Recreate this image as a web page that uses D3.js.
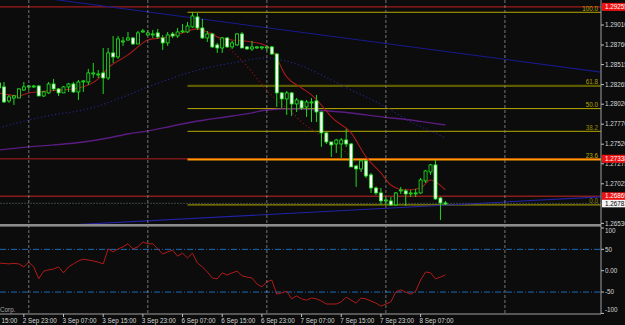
<!DOCTYPE html>
<html>
<head>
<meta charset="utf-8">
<script src="https://cdn.jsdelivr.net/npm/d3@7"></script>
<style>
  body { margin: 0; background: #0b0c0b; }
  svg { display: block; }
</style>
</head>
<body>
<div id="svgContainer"></div>
<script>

var WIDTH = 625;
var HEIGHT = 325;
var AXIS_X = 601;

// hourly bars, index -1 .. 89 (2 Sep 18:00 .. 8 Sep 12:00)
var firstBar = -1;
var opens = [1.28286,1.28236,1.28061,1.28098,1.28098,1.28198,1.28248,1.28248,1.28248,1.28123,1.28161,1.28273,1.28211,1.28161,1.28236,1.28273,1.28173,1.28311,1.28298,1.28411,1.28398,1.28411,1.28348,1.28661,1.28611,1.28811,1.28823,1.28848,1.28773,1.28936,1.28886,1.28898,1.28911,1.28848,1.28786,1.28898,1.28873,1.28936,1.28923,1.28986,1.29111,1.28973,1.28848,1.28898,1.28761,1.28723,1.28848,1.28736,1.28761,1.28898,1.28736,1.28711,1.28736,1.28736,1.28736,1.28736,1.28648,1.28161,1.28086,1.28161,1.28023,1.28061,1.27986,1.28048,1.28061,1.27923,1.27661,1.27548,1.27523,1.27523,1.27573,1.27523,1.27248,1.27211,1.27311,1.27136,1.26973,1.26911,1.26823,1.26811,1.26761,1.26948,1.26936,1.26911,1.26911,1.26911,1.27061,1.27173,1.27261,1.26848,1.26786];
var highs = [1.28323,1.28298,1.28136,1.28136,1.28223,1.28298,1.28261,1.28261,1.28261,1.28186,1.28298,1.28336,1.28223,1.28248,1.28286,1.28298,1.28323,1.28323,1.28461,1.28536,1.28448,1.28723,1.28723,1.28873,1.28873,1.28861,1.28923,1.28861,1.28936,1.28961,1.28948,1.28948,1.28961,1.28886,1.28923,1.28923,1.28973,1.29023,1.29048,1.29173,1.29161,1.29086,1.28936,1.28911,1.28786,1.28861,1.28861,1.28811,1.28911,1.28923,1.28748,1.28811,1.28748,1.28748,1.28748,1.28748,1.28661,1.28173,1.28186,1.28173,1.28098,1.28073,1.28073,1.28098,1.28136,1.27923,1.27673,1.27548,1.27586,1.27598,1.27711,1.27536,1.27261,1.27323,1.27323,1.27161,1.26986,1.26973,1.26861,1.26861,1.26923,1.26986,1.26961,1.26948,1.26961,1.27098,1.27198,1.27273,1.27323,1.26861,1.26811];
var lows = [1.28198,1.28036,1.28036,1.28011,1.28098,1.28186,1.28198,1.28223,1.28123,1.28111,1.28148,1.28186,1.28123,1.28161,1.28173,1.28161,1.28073,1.28173,1.28261,1.28348,1.28348,1.28148,1.28323,1.28536,1.28586,1.28748,1.28811,1.28761,1.28773,1.28911,1.28873,1.28848,1.28836,1.28698,1.28748,1.28848,1.28848,1.28911,1.28911,1.28973,1.28948,1.28836,1.28798,1.28723,1.28661,1.28661,1.28723,1.28711,1.28748,1.28723,1.28698,1.28686,1.28711,1.28698,1.28686,1.28636,1.27986,1.27973,1.27886,1.27873,1.27923,1.27948,1.27861,1.27798,1.27798,1.27486,1.27523,1.27361,1.27411,1.27348,1.27486,1.27236,1.26986,1.27173,1.27098,1.26911,1.26886,1.26761,1.26761,1.26748,1.26748,1.26898,1.26748,1.26861,1.26861,1.26898,1.27036,1.27136,1.26823,1.26573,1.26761];
var closes = [1.28223,1.28048,1.28111,1.28123,1.28211,1.28236,1.28248,1.28248,1.28123,1.28173,1.28273,1.28211,1.28161,1.28236,1.28273,1.28173,1.28298,1.28311,1.28411,1.28411,1.28398,1.28348,1.28661,1.28611,1.28836,1.28811,1.28848,1.28773,1.28911,1.28936,1.28911,1.28898,1.28861,1.28786,1.28886,1.28873,1.28923,1.28936,1.28998,1.29123,1.28973,1.28848,1.28898,1.28736,1.28723,1.28848,1.28736,1.28786,1.28898,1.28723,1.28711,1.28736,1.28736,1.28736,1.28736,1.28648,1.28161,1.28086,1.28161,1.28023,1.28073,1.27973,1.28048,1.28048,1.27923,1.27661,1.27548,1.27511,1.27573,1.27573,1.27523,1.27236,1.27211,1.27311,1.27123,1.26973,1.26911,1.26811,1.26823,1.26761,1.26911,1.26948,1.26898,1.26911,1.26911,1.27073,1.27186,1.27261,1.26836,1.26786,1.26781];

// oscillator in the lower window, one value per bar
var oscValues = [18,17,16,17,16,9,20,9,-19,-1,2,4,9,-5,9,16,23,27,25,23,20,16,51,44,51,56,63,51,56,67,63,63,51,39,44,48,34,41,30,41,18,9,-3,-17,-19,-5,-10,-5,-1,-12,-15,-17,-31,-38,-26,-22,-55,-52,-48,-66,-59,-66,-69,-64,-66,-71,-78,-78,-78,-73,-62,-69,-76,-64,-66,-71,-76,-83,-78,-73,-50,-45,-50,-55,-48,-22,-3,-5,-19,-15,-10];

// moving averages read at some bars: [bar, price]
var maFast = [[-1,1.28161],[3,1.28123],[5,1.28161],[9,1.28186],[15,1.28223],[19,1.28336],[21,1.28473],[25,1.28636],[27,1.28736],[29,1.28823],[33,1.28861],[36,1.28911],[39,1.28961],[41,1.28923],[43,1.28861],[46,1.28823],[50,1.28798],[53,1.28748],[54,1.28698],[57,1.28361],[60,1.28223],[62,1.28136],[65,1.27936],[66,1.27861],[70,1.27661],[73,1.27361],[76,1.27161],[78,1.27011],[81,1.26948],[84,1.26973],[86,1.27073],[89,1.26948]];
var maDotRed = [[41,1.28923],[42,1.28911],[44,1.28798],[47,1.28623],[50,1.28423],[52,1.28261],[55,1.28073],[58,1.27923],[60,1.27798],[63,1.27661],[66,1.27536],[70,1.27361],[73,1.27111],[76,1.26948]];
var maDotBlue = [[-1,1.27723],[5,1.27823],[11,1.27898],[16,1.27948],[19,1.27998],[24,1.28111],[29,1.28236],[34,1.28348],[40,1.28461],[46,1.28536],[53,1.28598],[56,1.28573],[60,1.28498],[66,1.28323],[70,1.28198],[73,1.28111],[78,1.27948],[82,1.27798],[86,1.27686],[89,1.27598]];
var maSlow = [[-1,1.27448],[5,1.27486],[10,1.27511],[16,1.27548],[21,1.27598],[25,1.27648],[29,1.27686],[34,1.27748],[38,1.27798],[42,1.27836],[46,1.27873],[50,1.27911],[53,1.27948],[58,1.27961],[63,1.27948],[68,1.27923],[73,1.27886],[78,1.27848],[82,1.27823],[86,1.27786],[89,1.27761]];

var trendUpper = [[12.3,1.29311],[120.2,1.28423]];
var trendLower = [[16.9,1.26523],[120.2,1.26861]];

var fibHigh = 1.29169;
var fibLow = 1.26761;
var fibStartBar = 37;
var fibLevels = [100.0, 61.8, 50.0, 38.2, 23.6, 0.0];
var fibLabels = ["100.0", "61.8", "50.0", "38.2", "23.6", "0.0"];
var fibColors = ["#b8aa00", "#5e5a00", "#b8aa00", "#938a00", "#ff9a00", "#938a00"];
var fibWidths = [1, 2.2, 1, 1.2, 2, 1.2];

var hLines = [1.29255, 1.27338, 1.26869];
var bidPrice = 1.26781;

var priceTicks = [1.29010, 1.28760, 1.28515, 1.28265, 1.28020, 1.27770, 1.27520, 1.27275, 1.27025, 1.26530];
var oscTicks = [100, 50, 0, -50, -100];
var oscTickLabels = ["100", "50", "0.00", "-50", "-100"];
var oscLevels = [50, -50];

var timeTickBars = [-4, 4, 12, 20, 28, 36, 44, 52, 60, 68, 76, 84];
var timeTickLabels = ["2 Sep 15:00", "2 Sep 23:00", "3 Sep 07:00", "3 Sep 15:00", "3 Sep 23:00", "6 Sep 07:00",
                      "6 Sep 15:00", "6 Sep 23:00", "7 Sep 07:00", "7 Sep 15:00", "7 Sep 23:00", "8 Sep 07:00"];
var gridBars = [5, 29, 53, 77, 101];


function drawChart()
{
    var svg = d3.select("#svgContainer").append("svg")
                .attr("width", WIDTH)
                .attr("height", HEIGHT)
                .style("font-family", "'Liberation Sans', Arial, sans-serif")
                .style("font-size", "6.3px");

    svg.append("rect").attr("width", WIDTH).attr("height", HEIGHT).attr("fill", "#0b0c0b");

    var x = d3.scaleLinear().domain([-1, 89]).range([-0.96, 445.4]);
    var y = d3.scaleLinear().domain([1.29010, 1.26530]).range([25, 223.4]);
    var yo = d3.scaleLinear().domain([100, -100]).range([228, 313.4]);

    var defs = svg.append("defs");
    defs.append("clipPath").attr("id", "clipMain")
        .append("rect").attr("x", 0).attr("y", 0).attr("width", AXIS_X).attr("height", 224);
    defs.append("clipPath").attr("id", "clipOsc")
        .append("rect").attr("x", 0).attr("y", 227).attr("width", AXIS_X).attr("height", 87);

    var main = svg.append("g").attr("clip-path", "url(#clipMain)");
    var osc = svg.append("g").attr("clip-path", "url(#clipOsc)");

    // vertical grid
    gridBars.forEach(function(b) {
        svg.append("line")
           .attr("x1", x(b)).attr("x2", x(b))
           .attr("y1", 0).attr("y2", 314)
           .attr("stroke", "#8e8e8e")
           .attr("stroke-width", 0.8)
           .attr("stroke-dasharray", "3,2");
    });

    // horizontal lines
    var hlColors = ["#a01c1c", "#7a1616", "#8a1c1c"];
    hLines.forEach(function(p, k) {
        main.append("line")
            .attr("x1", 0).attr("x2", AXIS_X)
            .attr("y1", y(p) + (k == 0 ? 1.5 : 0)).attr("y2", y(p) + (k == 0 ? 1.5 : 0))
            .attr("stroke", hlColors[k]).attr("stroke-width", 1.4);
    });
    main.append("line")
        .attr("x1", 0).attr("x2", AXIS_X)
        .attr("y1", y(bidPrice)).attr("y2", y(bidPrice))
        .attr("stroke", "#3c4444").attr("stroke-width", 1)
        .attr("stroke-dasharray", "2,1");

    // fibonacci levels
    fibLevels.forEach(function(lv, k) {
        var p = fibLow + (fibHigh - fibLow) * lv / 100;
        main.append("line")
            .attr("x1", x(fibStartBar)).attr("x2", AXIS_X)
            .attr("y1", y(p)).attr("y2", y(p))
            .attr("stroke", fibColors[k]).attr("stroke-width", fibWidths[k]);
        main.append("text")
            .attr("x", 598).attr("y", y(p) - 1.5)
            .attr("text-anchor", "end")
            .attr("fill", k == 4 ? "#b8aa00" : fibColors[k] == "#5e5a00" ? "#a89c00" : fibColors[k])
            .text(fibLabels[k]);
    });

    var lineGen = d3.line()
                    .x(function(d) { return x(d[0]); })
                    .y(function(d) { return y(d[1]); });
    var smooth = d3.line()
                   .curve(d3.curveMonotoneX)
                   .x(function(d) { return x(d[0]); })
                   .y(function(d) { return y(d[1]); });

    // trend lines, extended across the window
    [[trendUpper, "#1a1a8e"], [trendLower, "#2222a6"]].forEach(function(t) {
        var a = t[0][0], b = t[0][1];
        var slope = (b[1] - a[1]) / (b[0] - a[0]);
        var pts = [[-5, a[1] + slope * (-5 - a[0])], [125, a[1] + slope * (125 - a[0])]];
        main.append("path").attr("d", lineGen(pts))
            .attr("fill", "none").attr("stroke", t[1]).attr("stroke-width", 1.1);
    });

    main.append("path").attr("d", smooth(maSlow))
        .attr("fill", "none").attr("stroke", "#5a1c80").attr("stroke-width", 1.4);
    main.append("path").attr("d", smooth(maDotBlue))
        .attr("fill", "none").attr("stroke", "#262690").attr("stroke-width", 1.1)
        .attr("stroke-dasharray", "1.2,2.4");
    main.append("path").attr("d", smooth(maDotRed))
        .attr("fill", "none").attr("stroke", "#8c1414").attr("stroke-width", 1.1)
        .attr("stroke-dasharray", "1.2,2.4");
    main.append("path").attr("d", smooth(maFast))
        .attr("fill", "none").attr("stroke", "#a81a1a").attr("stroke-width", 1.1);

    // candles
    var bars = opens.map(function(o, k) {
        return { i: firstBar + k, o: o, h: highs[k], l: lows[k], c: closes[k] };
    });

    var candle = main.selectAll(".candle")
                     .data(bars)
                     .enter().append("g")
                     .attr("class", "candle");

    candle.append("line")
          .attr("x1", function(d) { return x(d.i); })
          .attr("x2", function(d) { return x(d.i); })
          .attr("y1", function(d) { return y(d.h); })
          .attr("y2", function(d) { return y(d.l); })
          .attr("stroke", "#20d820")
          .attr("stroke-width", 1);

    candle.append("rect")
          .attr("x", function(d) { return x(d.i) - 1.5; })
          .attr("y", function(d) { return y(Math.max(d.o, d.c)); })
          .attr("width", 3)
          .attr("height", function(d) { return Math.max(1, Math.abs(y(d.o) - y(d.c))); })
          .attr("fill", function(d) { return d.c < d.o ? "#ffffff" : "#0b0c0b"; })
          .attr("stroke", "#22ee22")
          .attr("stroke-width", 0.8);

    // oscillator
    oscLevels.forEach(function(v) {
        osc.append("line")
           .attr("x1", 0).attr("x2", AXIS_X)
           .attr("y1", yo(v)).attr("y2", yo(v))
           .attr("stroke", "#1c6cb8").attr("stroke-width", 1)
           .attr("stroke-dasharray", "6,2,1,2");
    });
    var oscLine = d3.line()
                    .x(function(d, k) { return x(firstBar + k); })
                    .y(function(d) { return yo(d); });
    osc.append("path").attr("d", oscLine(oscValues))
       .attr("fill", "none").attr("stroke", "#b41a1a").attr("stroke-width", 1);

    svg.append("text").attr("x", 0).attr("y", 311.5)
       .attr("fill", "#a8a8a8").text("Corp.");

    // panel borders
    svg.append("rect").attr("x", 0).attr("y", 224).attr("width", AXIS_X).attr("height", 2.6)
       .attr("fill", "#8c8c8c");
    svg.append("line").attr("x1", 0).attr("x2", AXIS_X).attr("y1", 314).attr("y2", 314)
       .attr("stroke", "#a0a0a0").attr("stroke-width", 1);
    svg.append("line").attr("x1", AXIS_X).attr("x2", AXIS_X).attr("y1", 0).attr("y2", 314)
       .attr("stroke", "#a0a0a0").attr("stroke-width", 1);

    // price axis
    priceTicks.forEach(function(p) {
        svg.append("line").attr("x1", AXIS_X).attr("x2", AXIS_X + 3)
           .attr("y1", y(p)).attr("y2", y(p)).attr("stroke", "#c0c0c0");
        svg.append("text").attr("x", 605).attr("y", y(p) + 2.2)
           .attr("fill", "#d8d8d8").text(p.toFixed(5));
    });
    hLines.forEach(function(p, k) {
        var yy = y(p) + (k == 0 ? 1.5 : 0);
        svg.append("rect").attr("x", 602).attr("y", yy - 4).attr("width", 23).attr("height", 8)
           .attr("fill", "#ee1111");
        svg.append("text").attr("x", 605).attr("y", yy + 2.2)
           .attr("fill", "#ffffff").text(p.toFixed(5));
    });
    svg.append("rect").attr("x", 602).attr("y", y(bidPrice) - 3.5).attr("width", 23).attr("height", 7.5)
       .attr("fill", "#f4f4f4");
    svg.append("text").attr("x", 605).attr("y", y(bidPrice) + 2.4)
       .attr("fill", "#000000").text(bidPrice.toFixed(5));

    // oscillator axis
    oscTicks.forEach(function(v, k) {
        svg.append("line").attr("x1", AXIS_X).attr("x2", AXIS_X + 3)
           .attr("y1", yo(v)).attr("y2", yo(v)).attr("stroke", "#c0c0c0");
        svg.append("text").attr("x", 605).attr("y", Math.min(Math.max(yo(v), 231), 310) + 2.2)
           .attr("fill", "#d8d8d8").text(oscTickLabels[k]);
    });

    // time axis
    timeTickBars.forEach(function(b, k) {
        svg.append("line").attr("x1", x(b)).attr("x2", x(b))
           .attr("y1", 314).attr("y2", 317).attr("stroke", "#c0c0c0");
        svg.append("text").attr("x", x(b) - 1).attr("y", 322.5)
           .attr("fill", "#d8d8d8").text(timeTickLabels[k]);
    });
}


drawChart();

</script>
</body>
</html>
